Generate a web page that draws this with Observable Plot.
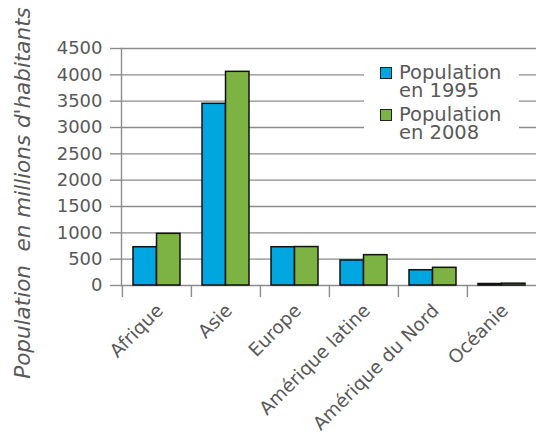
<!DOCTYPE html>
<html>
<head>
<meta charset="utf-8">
<script src="https://cdn.jsdelivr.net/npm/d3@7"></script>
<script src="https://cdn.jsdelivr.net/npm/@observablehq/plot@0.6"></script>
<style>
  html, body { margin: 0; padding: 0; background: #fff; }
  #wrap { position: relative; width: 536px; height: 437px; font-family: "DejaVu Sans", sans-serif; color: #595959; }
  #legend { position: absolute; left: 364px; top: 58px; width: 155px; height: 88px; background: #fff; }
  .item { position: absolute; left: 16px; font-size: 19.5px; line-height: 18px; }
  .sw { position: absolute; left: 0; width: 10px; height: 10px; border: 1px solid #222; }
  .lbl { position: absolute; left: 19px; top: 0; white-space: nowrap; }
</style>
</head>
<body>
<div id="wrap"></div>
<script>
const regions = ["Afrique", "Asie", "Europe", "Amérique latine", "Amérique du Nord", "Océanie"];
const pop1995 = [727, 3450, 727, 475, 290, 28];
const pop2008 = [981, 4057, 730, 576, 336, 35];
const seriesNames = ["Population en 1995", "Population en 2008"];
const seriesColors = ["#00a6df", "#7db343"];
const yTicks = [0, 500, 1000, 1500, 2000, 2500, 3000, 3500, 4000, 4500];
const yTitle = "Population  en millions d'habitants";

const W = 536, H = 437, mL = 121, mR = 0, mT = 48, mB = 152;
const step = (W - mL - mR) / regions.length;
const half = step * 0.68 / 2;
const gray = "#8c8c8c";

const d1995 = regions.map((r, i) => ({region: r, value: pop1995[i]}));
const d2008 = regions.map((r, i) => ({region: r, value: pop2008[i]}));

const chart = Plot.plot({
  width: W, height: H,
  marginLeft: mL, marginRight: mR, marginTop: mT, marginBottom: mB,
  style: {fontFamily: "DejaVu Sans, sans-serif", color: "#595959", background: "#fff", overflow: "visible"},
  x: {domain: regions, paddingInner: 0.32, paddingOuter: 0.16, align: 0.5, label: null},
  y: {domain: [0, 4500], label: null},
  marks: [
    Plot.gridY(yTicks, {stroke: gray, strokeOpacity: 1, strokeWidth: 1.4}),
    Plot.axisY(yTicks, {tickSize: 11, tickPadding: 8, fontSize: 18, stroke: gray, strokeWidth: 1.4, fill: "#595959", label: null, tickFormat: d => String(d)}),
    Plot.frame({anchor: "left", stroke: gray, strokeWidth: 1.4}),
    Plot.axisX({tickSize: 12, text: null, dx: -step / 2, stroke: gray, strokeWidth: 1.4, label: null}),
    Plot.axisX({tickSize: 0, tickPadding: 22, dx: 3, tickRotate: -45, fontSize: 18.5, fill: "#595959", label: null}),
    Plot.barY(d1995, {x: "region", y: "value", fill: seriesColors[0], stroke: "#111", strokeWidth: 1.5, insetRight: half}),
    Plot.barY(d2008, {x: "region", y: "value", fill: seriesColors[1], stroke: "#111", strokeWidth: 1.5, insetLeft: half}),
    Plot.text([yTitle], {frameAnchor: "left", textAnchor: "middle", rotate: -90, dx: -98, dy: 26, fontSize: 21.5, fontStyle: "italic", fill: "#595959"})
  ]
});

const wrap = document.getElementById("wrap");
wrap.appendChild(chart);

const legend = document.createElement("div");
legend.id = "legend";
seriesNames.forEach((name, i) => {
  const parts = name.split(" en ");
  const item = document.createElement("div");
  item.className = "item";
  item.style.top = (6 + i * 42) + "px";
  item.innerHTML = `<div class="sw" style="background:${seriesColors[i]};top:3px"></div>` +
    `<div class="lbl">${parts[0]}<br>en ${parts[1]}</div>`;
  legend.appendChild(item);
});
wrap.appendChild(legend);
</script>
</body>
</html>
